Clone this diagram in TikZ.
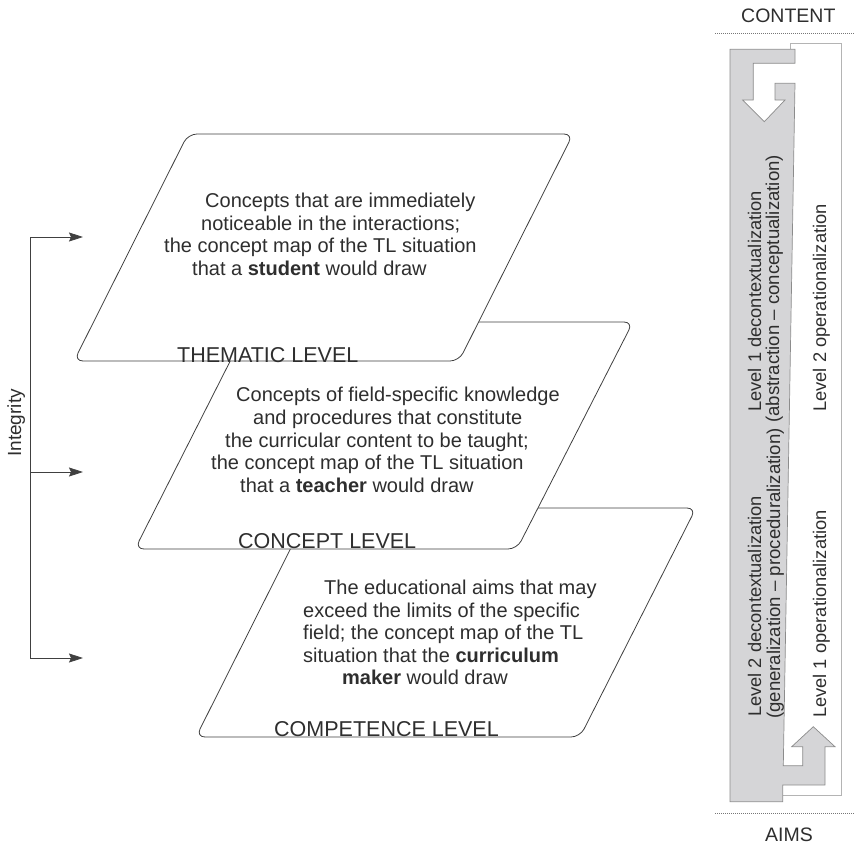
\documentclass[tikz,border=0pt]{standalone}
\usepackage{fontspec}
\setmainfont{Liberation Sans}
\usetikzlibrary{arrows.meta}
\definecolor{txt}{HTML}{2E2E2E}
\definecolor{edge}{HTML}{404040}
\definecolor{bandfill}{HTML}{D5D5D7}
\definecolor{bandline}{HTML}{8C8C8C}
\definecolor{wline}{HTML}{B4B4B4}
\definecolor{dotc}{HTML}{777777}
\begin{document}
\begin{tikzpicture}[x=1pt,y=-1pt,
  every node/.style={text=txt, inner sep=0pt},
  plane/.style={draw=edge, line width=0.8pt, fill=white, rounded corners=9pt},
  body/.style={font=\fontsize{20}{23}\selectfont, anchor=base west},
  lvl/.style={font=\fontsize{21.5}{24}\selectfont, anchor=base west},
  side/.style={font=\fontsize{18.3}{21}\selectfont, rotate=90, anchor=base west},
  sidewide/.style={side, font=\fontsize{18.6}{21}\selectfont},
  head/.style={font=\fontsize{19.5}{22}\selectfont, anchor=base west},
  integline/.style={draw=edge, line width=0.8pt},
  integ/.style={integline, -{Stealth[length=14pt,width=9pt,inset=2pt]}},
  dotline/.style={draw=dotc, line width=0.6pt, dash pattern=on 0.8pt off 1.2pt}
]
\useasboundingbox (0,0) rectangle (855,846);

% ---------- planes (bottom first) ----------
\draw[plane] (311,508) -- (696,508) -- (580,737) -- (196,737) -- cycle;
\draw[plane] (250,322) -- (633,322) -- (517,549) -- (135,549) -- cycle;
\draw[plane] (188,134) -- (573,134) -- (459,361) -- (74,361) -- cycle;

% ---------- plane texts ----------
\node[body] (a1) at (205,207) {Concepts that are immediately};
\node[body] (a2) at (201,230) {noticeable in the interactions;};
\node[body] (a3) at (164,252) {the concept map of the TL situation};
\node[body] (a4) at (192,275) {that a \textbf{student} would draw};
\node[lvl]  (la) at (177,362) {THEMATIC LEVEL};

\node[body] (b1) at (236,401) {Concepts of field-specific knowledge};
\node[body] (b2) at (253,424) {and procedures that constitute};
\node[body] (b3) at (225,447) {the curricular content to be taught;};
\node[body] (b4) at (211,469) {the concept map of the TL situation};
\node[body] (b5) at (240,492) {that a \textbf{teacher} would draw};
\node[lvl]  (lb) at (238,548) {CONCEPT LEVEL};

\node[body] (c1) at (324,594) {The educational aims that may};
\node[body] (c2) at (303,617) {exceed the limits of the specific};
\node[body] (c3) at (303,639) {field; the concept map of the TL};
\node[body] (c4) at (303,662) {situation that the \textbf{curriculum}};
\node[body] (c5) at (342,684) {\textbf{maker} would draw};
\node[lvl]  (lc) at (274,736) {COMPETENCE LEVEL};

% ---------- integrity ----------
\coordinate (it) at (30,237);
\coordinate (im) at (30,472);
\coordinate (ib) at (30,658);
\coordinate (t1) at (83,237);
\coordinate (t2) at (83,472);
\coordinate (t3) at (83,658);
\draw[integline] (it) -- (ib);
\draw[integ] (it) -- (t1);
\draw[integ] (im) -- (t2);
\draw[integ] (ib) -- (t3);
\node[font=\fontsize{19}{22}\selectfont, rotate=90, anchor=base] (integ) at (21,423) {Integrity};

% ---------- right band ----------
\draw[dotline] (715,33) -- (855,33);
\draw[dotline] (715,813) -- (855,813);
\node[head] (content) at (741,22) {CONTENT};
\node[head] (aims) at (765,841) {AIMS};

\draw[wline, line width=0.8pt] (790,49.3) -- (790,43.3) -- (841.7,43.3) -- (841.7,795) -- (782.7,795);
\filldraw[fill=bandfill, draw=bandline, line width=0.7pt]
  (730,49.3) -- (795,49.3) -- (795,63.3) -- (753.3,63.3) -- (753.3,100)
  -- (742.7,100) -- (764.3,121.7) -- (785,100) -- (775,100) -- (775,83.3)
  -- (795,83.3) -- (783.3,765.7) -- (802.7,765.7) -- (802.7,746.7)
  -- (791.7,746.7) -- (813.3,726.7) -- (835,746.7) -- (825,746.7)
  -- (825,785) -- (782.7,785) -- (782.7,801.7) -- (730,801.7) -- cycle;

\node[side] (d1) at (761,412) {Level 1 decontextualization};
\node[sidewide] (d2) at (779,423) {(abstraction – conceptualization)};
\node[side] (e1) at (761,717) {Level 2 decontextualization};
\node[sidewide] (e2) at (780,719) {(generalization – proceduralization)};
\node[side] (o2) at (826,412) {Level 2 operationalization};
\node[side] (o1) at (826,718) {Level 1 operationalization};
\end{tikzpicture}
\end{document}
